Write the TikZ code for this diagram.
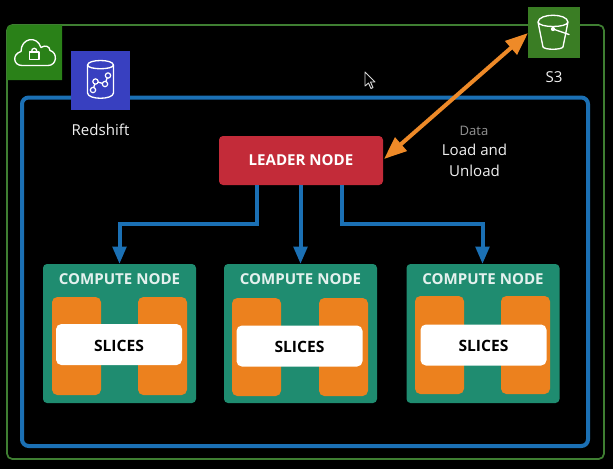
\documentclass[tikz,border=0pt]{standalone}
\usepackage{fontspec}
\setmainfont{Open Sans}
\usetikzlibrary{arrows.meta}
\definecolor{frameG}{HTML}{3F7F32}
\definecolor{cloudG}{HTML}{2A8118}
\definecolor{sthreeG}{HTML}{3A7D24}
\definecolor{rsB}{HTML}{3840C0}
\definecolor{lineB}{HTML}{1B70B4}
\definecolor{leadR}{HTML}{C32B39}
\definecolor{compG}{HTML}{1F8C70}
\definecolor{sliceO}{HTML}{EC811E}
\definecolor{arrO}{HTML}{EE8A28}
\definecolor{softW}{HTML}{F0F0F0}
\tikzset{
  x=0.75pt,y=-0.75pt,
  conn/.style={lineB,line width=3pt,-{Triangle[width=10pt,length=13pt]}},
  lab/.style={softW,font=\fontsize{11.3}{13}\selectfont,inner sep=0pt,align=center},
  ic/.style={white,line width=1pt,line join=round,line cap=round},
  heading/.style={font=\bfseries\fontsize{11.3}{13}\selectfont,inner sep=0pt},
}
\newcommand{\computeN}[6]{% x-left, y of bars, bar1x, bar2x, white-left, white-top
  \fill[compG,rounded corners=3pt] (#1,264) rectangle ++(153,139);
  \node[heading,text=white!88!compG] at ({#1+76.5},279) {COMPUTE NODE};
  \fill[sliceO,rounded corners=4pt] (#3,#2) rectangle ++(49,98);
  \fill[sliceO,rounded corners=4pt] (#4,#2) rectangle ++(49,98);
  \fill[white,rounded corners=4pt] (#5,#6) rectangle ++(126,41);
  \node[heading,text=black,font=\bfseries\fontsize{11.7}{13}\selectfont] at ({#5+63},{#6+21.5}) {SLICES};
}
\begin{document}
\begin{tikzpicture}
\useasboundingbox (0,0) rectangle (613,469);
\fill[black] (0,0) rectangle (613,469);
% frames
\draw[frameG,line width=1.3pt,rounded corners=4pt] (7,25) rectangle (604,459);
\draw[lineB,line width=3pt,rounded corners=5pt] (22,97.5) rectangle (588,446);
% vpc tile
\fill[cloudG] (7,80) -- (7,30) .. controls (7,27) and (9,25) .. (12,25) -- (62,25) -- (62,80) -- cycle;
\draw[ic] (22,65.5) .. controls (13,65.5) and (12,54) .. (21,51.5)
  .. controls (21,38) and (37,35) .. (41,47.5)
  .. controls (45,44.5) and (50,46.5) .. (50,50.5)
  .. controls (58,52.5) and (57,65.5) .. (48,65.5) -- cycle;
\draw[ic] (29.5,52) rectangle (39,59.5);
\draw[ic] (31.5,52) .. controls (31.5,47) and (37,47) .. (37,52);
% redshift tile
\fill[rsB] (71,51) rectangle (130,110);
\draw[ic] (87.5,65) .. controls (88,59) and (113,59) .. (113.5,65) -- (113.5,93) .. controls (113,100) and (88,100) .. (87.5,93) -- cycle;
\draw[ic] (87.5,65) .. controls (88,70) and (113,70) .. (113.5,65);
\draw[ic] (93,90) -- (95.5,81.5) -- (105,84) -- (108,75.5);
\foreach \p in {(93,90),(95.5,81.5),(105,84),(108,75.5)} \filldraw[white,fill=rsB,line width=.9pt] \p circle (2pt);
\node[lab] (rsl) at (100.5,130) {Redshift};
% s3 tile
\fill[sthreeG] (528,7) rectangle (580,58);
\draw[ic] (538,22) .. controls (539,13) and (567,13) .. (568,22) .. controls (567,28) and (539,28) .. (538,22) -- (543,47) .. controls (545,50) and (561,50) .. (563,47) -- (568,22);
\draw[ic] (553,29) -- (569,34.5);
\fill[white] (553,29) circle (1.6pt);
\node[lab] (s3l) at (554,77) {S3};
% leader
\node[fill=leadR,rounded corners=3pt,minimum width=123pt,minimum height=36.75pt,inner sep=0pt,text=white,font=\bfseries\fontsize{11.3}{13}\selectfont] (leader) at (301,160.5) {LEADER NODE};
% computes
\computeN{43}{297}{52}{138}{56}{324}
\computeN{224}{298}{232}{319}{236.5}{325.5}
\computeN{406.5}{296}{415}{501}{420.5}{324.5}
% anchors
\coordinate (c1) at (119.5,264);
\coordinate (c2) at (300.5,264);
\coordinate (c3) at (482.5,264);
\coordinate (la) at (257,185);
\coordinate (lb) at (300.5,185);
\coordinate (lc) at (341.5,185);
\draw[conn] (la) -- (257,224) -- (119.5,224) -- (c1);
\draw[conn] (lb) -- (c2);
\draw[conn] (lc) -- (341.5,224) -- (482.5,224) -- (c3);
% S3 link
\coordinate (s3p) at (528,33);
\coordinate (ldp) at (384,159);
\draw[arrO,line width=3pt,{Triangle[width=13pt,length=17pt]}-{Triangle[width=13pt,length=17pt]}] (ldp) -- (s3p);
% labels
\node[lab,font=\fontsize{9.8}{11}\selectfont,text=gray!85] (dl) at (474,131) {Data};
\node[lab] (ll) at (474.5,150) {Load and};
\node[lab] (ul) at (474.5,171) {Unload};
% cursor
\filldraw[black,draw=white!85!black,line width=.7pt,line join=round] (365,72) -- (365,86) -- (368.5,83) -- (371,88.5) -- (373,87.5) -- (370.5,82) -- (375,82) -- cycle;
\end{tikzpicture}
\end{document}
